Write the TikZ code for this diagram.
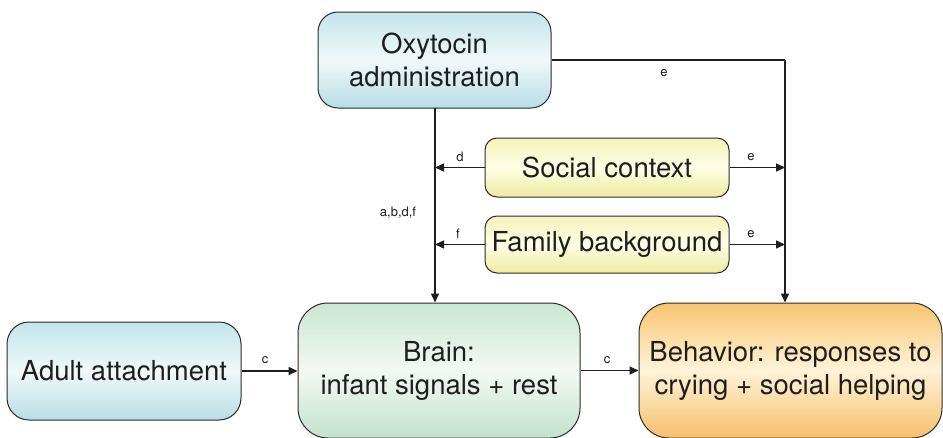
\documentclass[tikz,border=0pt]{standalone}
\usepackage{fontspec}
\setmainfont{TeX Gyre Heros}
\usetikzlibrary{arrows.meta}
\definecolor{bordc}{HTML}{2A2A2A}
\definecolor{linec}{HTML}{1E1E1E}
\definecolor{textc}{HTML}{1E1E1E}
\definecolor{cyanT}{HTML}{C2E4EB}
\definecolor{cyanM}{HTML}{F0F9FA}
\definecolor{cyanB}{HTML}{B8DDE5}
\definecolor{greenT}{HTML}{CBE6D3}
\definecolor{greenM}{HTML}{F2F9F3}
\definecolor{greenB}{HTML}{C4E2CD}
\definecolor{yelT}{HTML}{F5F2BA}
\definecolor{yelM}{HTML}{FEFEE6}
\definecolor{yelB}{HTML}{EFEAA0}
\definecolor{orT}{HTML}{F8C570}
\definecolor{orM}{HTML}{FFF3D8}
\definecolor{orB}{HTML}{F6C06A}
\begin{document}
\begin{tikzpicture}[x=1pt,y=-1pt,
  box/.style={draw=bordc, line width=1pt, align=center, inner sep=0pt,
    font=\fontsize{27.5}{33}\selectfont, text=textc},
  cyanbox/.style={top color=cyanT, bottom color=cyanB, middle color=cyanM},
  greenbox/.style={top color=greenT, bottom color=greenB, middle color=greenM},
  yelbox/.style={top color=yelT, bottom color=yelB, middle color=yelM},
  orbox/.style={top color=orT, bottom color=orB, middle color=orM},
  conn/.style={draw=linec, line width=1.5pt, -{Triangle[length=9pt,width=8pt]}},
  plain/.style={draw=linec, line width=1.5pt},
  lbl/.style={font=\fontsize{13}{15}\selectfont, text=textc, inner sep=0pt}
]
\useasboundingbox (0,0) rectangle (943,437);

\node[box, cyanbox, rounded corners=20pt, minimum width=233pt, minimum height=96pt] (oxy) at (434.5,60) {Oxytocin\\administration};
\node[box, yelbox, rounded corners=12pt, minimum width=244pt, minimum height=59pt] (soc) at (607,167.5) {Social context};
\node[box, yelbox, rounded corners=12pt, minimum width=244pt, minimum height=57pt] (fam) at (607,244.5) {Family background};
\node[box, cyanbox, rounded corners=22pt, minimum width=234pt, minimum height=98pt] (adult) at (124,371) {Adult attachment};
\node[box, greenbox, rounded corners=30pt, minimum width=282pt, minimum height=135pt] (brain) at (439,370.5) {Brain:\\infant signals + rest};
\node[box, orbox, rounded corners=30pt, minimum width=303pt, minimum height=135pt] (beh) at (790.5,370.5) {Behavior: responses to\\crying + social helping};

\coordinate (lv) at (435,108);
\coordinate (rv) at (785,60);

% oxytocin -> brain
\draw[conn] (lv) -- (lv |- brain.north);
% oxytocin -> behavior
\draw[plain] (oxy.east) -- (rv);
\draw[conn] (rv) -- (rv |- beh.north);
% social context
\draw[conn] (soc.west) -- (soc.west -| lv);
\draw[conn] (soc.east) -- (soc.east -| rv);
% family background
\draw[conn] (fam.west) -- (fam.west -| lv);
\draw[conn] (fam.east) -- (fam.east -| rv);
% bottom row
\draw[conn] (adult.east) -- (adult.east -| brain.west);
\draw[conn] (brain.east) -- (brain.east -| beh.west);

% labels
\node[lbl] (le1) at (664,73) {e};
\node[lbl] (ld) at (460,157) {d};
\node[lbl] (le2) at (751,157) {e};
\node[lbl] (lf) at (458,234) {f};
\node[lbl] (le3) at (751,234) {e};
\node[lbl] (labdf) at (398,213) {a,b,d,f};
\node[lbl] (lc1) at (265,360) {c};
\node[lbl] (lc2) at (607,360) {c};
\end{tikzpicture}
\end{document}
